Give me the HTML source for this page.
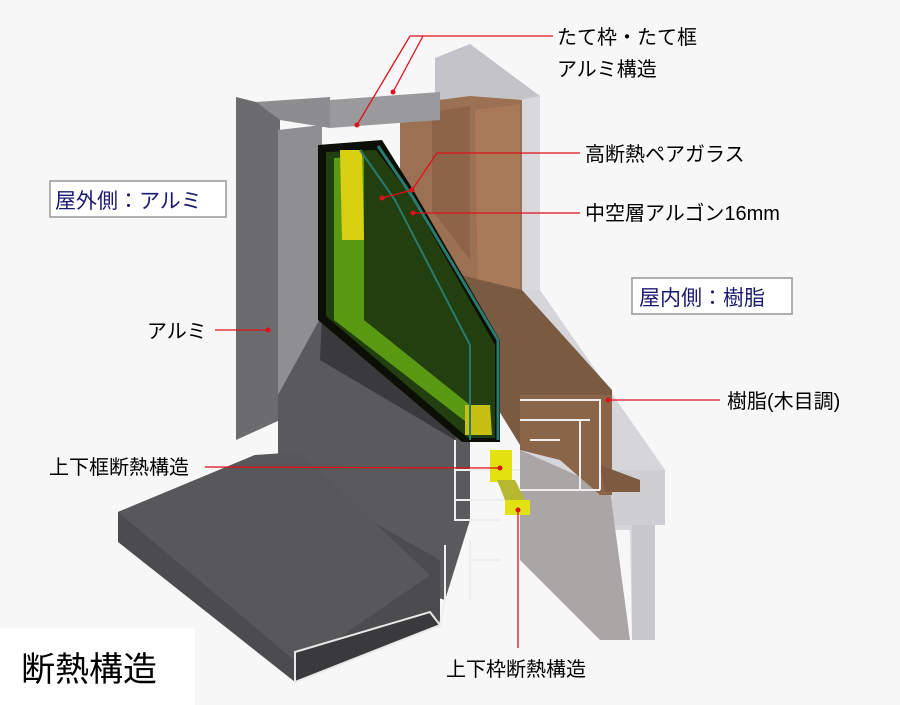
<!DOCTYPE html>
<html><head><meta charset="utf-8"><style>
body{margin:0;width:900px;height:705px;overflow:hidden;background:#f7f7f8}
svg{position:absolute;left:0;top:0}
text{font-family:"Liberation Sans","Noto Sans CJK JP",sans-serif}
</style></head><body>
<svg width="900" height="705" viewBox="0 0 900 705">
<rect width="900" height="705" fill="#f7f7f8"/>
<!-- wall -->
<polygon points="435,58 470,44 540,96 540,310 435,310" fill="#c4c4c8"/>
<polygon points="520,100 540,96 540,300 520,300" fill="#d9d9dd"/>
<polygon points="520,290 540,290 665,470 665,525 655,525 655,640 632,640 630,530 610,530 520,450" fill="#d6d6da"/>
<polygon points="610,470 665,470 665,525 610,525" fill="#cfcfd3"/>
<polygon points="632,525 655,525 655,640 632,640" fill="#c8c8cc"/>
<polygon points="520,450 610,490 630,640 600,640 520,560" fill="#aba6a6"/>
<!-- wood vertical -->
<polygon points="400,105 470,96 522,100 522,300 470,300 400,210" fill="#9c7052"/>
<polygon points="475,110 520,104 520,300 478,300" fill="#a97a5a"/>
<polygon points="432,112 470,106 470,260 432,210" fill="#8e6448"/>
<!-- wood sill -->
<polygon points="440,270 522,290 612,390 612,445 520,445 480,380" fill="#7b5a42"/>
<polygon points="520,395 612,395 612,495 600,495 560,460 520,450" fill="#8a6548"/>
<polygon points="600,465 640,480 640,492 605,492" fill="#7d5a40"/>
<!-- left aluminium -->
<polygon points="236,97 256,102 280,112 280,420 236,440" fill="#6c6c6e"/>
<polygon points="256,102 330,97 330,128 280,120" fill="#8d8d90"/>
<polygon points="330,100 440,92 440,120 330,128" fill="#9a9a9c"/>
<polygon points="278,130 322,125 322,320 278,395" fill="#8f8f92"/>
<!-- dark diagonal body -->
<polygon points="278,395 322,315 460,420 470,440 470,520 445,600 300,555 278,470" fill="#5a5a5c"/>
<polygon points="322,315 460,420 455,440 320,360" fill="#3a3a3c"/>
<!-- sill plate -->
<polygon points="118,512 255,455 440,560 440,625 295,682 118,542" fill="#4c4c4e"/>
<polygon points="118,512 255,455 300,452 430,575 300,665" fill="#58585a"/>
<polygon points="295,652 430,612 440,625 295,682" fill="#3a3a3c" stroke="#e8e8e8" stroke-width="2"/>
<!-- glass -->
<polygon points="318,145 382,140 412,188 500,340 500,442 462,442 318,320" fill="#0b0f06"/>
<polygon points="326,152 376,150 410,195 495,345 495,438 468,438 326,316" fill="#223f10"/>
<polygon points="334,158 364,156 364,320 470,405 470,425 334,320" fill="#5a9a12"/>
<polygon points="340,150 362,150 364,240 342,240" fill="#d8d010"/>
<polygon points="465,405 490,405 492,435 465,435" fill="#c8c010"/>
<polyline points="378,146 412,196 498,340 498,440" fill="none" stroke="#2a7a70" stroke-width="3"/>
<polyline points="360,150 395,200 470,345 470,440" fill="none" stroke="#2a7a70" stroke-width="2"/>
<!-- bottom cross-sections -->
<g fill="none" stroke="#eeeeee" stroke-width="2">
<path d="M455,440 V520 H470 M455,470 H520 M455,500 H520 M460,520 H500 M470,540 V600 M470,560 H500"/>
<path d="M520,400 H600 V490 M520,420 H590 M530,440 H560 M580,420 V490 M520,490 H600"/>
<path d="M445,545 V600 L440,625"/>
</g>
<polygon points="490,450 512,450 512,482 490,482" fill="#e2e210"/>
<polygon points="505,500 530,500 530,515 505,515" fill="#e2e210"/>
<polygon points="497,480 515,480 525,500 505,500" fill="#b8b830"/>
<!-- leader lines -->
<g stroke="#e0101a" stroke-width="1.3" fill="none">
<polyline points="553,36 410,36 357,125"/>
<polyline points="423,36 393,92"/>
<polyline points="580,153 437,153 412,190 382,198"/>
<polyline points="580,213 413,213"/>
<polyline points="215,330 268,330"/>
<polyline points="608,400 720,400"/>
<polyline points="205,467 500,468"/>
<polyline points="518,510 518,648"/>
</g>
<g fill="#e0101a">
<circle cx="357" cy="125" r="2.5"/><circle cx="393" cy="92" r="2.5"/>
<circle cx="382" cy="198" r="2.5"/><circle cx="412" cy="190" r="2.5"/>
<circle cx="413" cy="213" r="2.5"/><circle cx="268" cy="330" r="2.5"/>
<circle cx="608" cy="400" r="2.5"/><circle cx="500" cy="468" r="2.5"/>
<circle cx="518" cy="510" r="2.5"/>
</g>
<!-- labels -->
<g font-size="20" fill="#000">
<text x="557" y="44">たて枠・たて框</text>
<text x="557" y="76">アルミ構造</text>
<text x="585" y="161">高断熱ペアガラス</text>
<text x="585" y="220">中空層アルゴン16mm</text>
<text x="147" y="338">アルミ</text>
<text x="727" y="408">樹脂(木目調)</text>
<text x="49" y="474">上下框断熱構造</text>
<text x="446" y="676">上下枠断熱構造</text>
</g>
<rect x="50" y="181" width="176" height="36" fill="#fff" stroke="#999" stroke-width="1.5"/>
<text x="55" y="208" font-size="21" fill="#1a1a70">屋外側：アルミ</text>
<rect x="632" y="278" width="160" height="36" fill="#fff" stroke="#999" stroke-width="1.5"/>
<text x="639" y="305" font-size="21" fill="#1a1a70">屋内側：樹脂</text>
<rect x="0" y="628" width="195" height="77" fill="#ffffff"/>
<text x="21" y="681" font-size="34" fill="#000">断熱構造</text>
</svg>
</body></html>
